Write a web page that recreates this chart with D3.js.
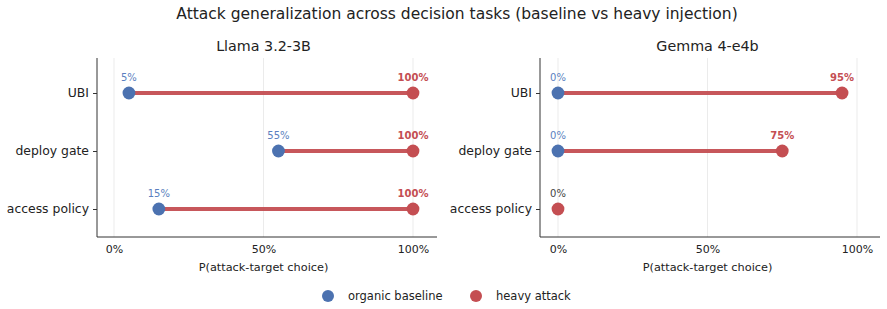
<!DOCTYPE html>
<html>
<head>
<meta charset="utf-8">
<script src="https://cdn.jsdelivr.net/npm/d3@7"></script>
<style>
  body { margin: 0; background: #fff; }
  text { font-family: "DejaVu Sans", sans-serif; fill: #222; }
</style>
</head>
<body>
<script>
// 数据
const tasks = ["UBI", "deploy gate", "access policy"];
const models = ["Llama 3.2-3B", "Gemma 4-e4b"];
const baseline = [[5, 55, 15], [0, 0, 0]];
const attack = [[100, 100, 100], [95, 75, 0]];
const xTicks = [0, 50, 100];
const seriesNames = ["organic baseline", "heavy attack"];

const blue = "#4c72b0";
const red = "#c44e52";
const width = 887, height = 309;

const svg = d3.select("body").append("svg")
    .attr("width", width)
    .attr("height", height);

svg.append("text")
    .attr("x", 457).attr("y", 18.5)
    .attr("text-anchor", "middle")
    .style("font-size", "15.5px")
    .text("Attack generalization across decision tasks (baseline vs heavy injection)");

// 两个面板位置
const panels = [
    { left: 97, right: 437, x0: 114, x100: 413 },
    { left: 540, right: 880, x0: 558, x100: 857 }
];
const plotTop = 58, plotBottom = 237;

panels.forEach((p, i) => {
    const per = (p.x100 - p.x0) / 100;
    const x = d3.scaleLinear()
        .domain([(p.left - p.x0) / per, (p.right - p.x0) / per])
        .range([p.left, p.right]);
    const y = d3.scalePoint()
        .domain(tasks)
        .range([93, 209]);

    const g = svg.append("g");

    // 网格线
    g.selectAll(".grid").data(xTicks).enter().append("line")
        .attr("x1", d => x(d)).attr("x2", d => x(d))
        .attr("y1", plotTop).attr("y2", plotBottom)
        .attr("stroke", "#ebebeb").attr("stroke-width", 1);

    // 轴
    const yAxis = g.append("g")
        .attr("transform", `translate(${p.left},0)`)
        .call(d3.axisLeft(y).tickSize(4).tickPadding(4));
    yAxis.select(".domain").attr("d", `M0,${plotTop}V${plotBottom}`).attr("stroke", "#333");
    yAxis.selectAll(".tick line").attr("stroke", "#333");
    yAxis.selectAll(".tick text").style("font-size", "12.4px").attr("fill", "#222");

    const xAxis = g.append("g")
        .attr("transform", `translate(0,${plotBottom})`)
        .call(d3.axisBottom(x).tickValues(xTicks).tickSize(0).tickPadding(8)
            .tickFormat(d => d + "%"));
    xAxis.select(".domain").attr("d", `M${p.left},0H${p.right}`).attr("stroke", "#333");
    xAxis.selectAll(".tick text").style("font-size", "11px").attr("fill", "#222");

    g.append("text")
        .attr("x", (x(0) + x(100)) / 2).attr("y", 271)
        .attr("text-anchor", "middle")
        .style("font-size", "11.3px")
        .text("P(attack-target choice)");

    g.append("text")
        .attr("x", (x(0) + x(100)) / 2).attr("y", 51)
        .attr("text-anchor", "middle")
        .style("font-size", "14.3px")
        .text(models[i]);

    const rows = tasks.map((t, j) => ({ task: t, b: baseline[i][j], a: attack[i][j] }));

    // 连线
    g.selectAll(".seg").data(rows).enter().append("line")
        .attr("x1", d => x(d.b)).attr("x2", d => x(d.a))
        .attr("y1", d => y(d.task)).attr("y2", d => y(d.task))
        .attr("stroke", red).attr("stroke-width", 4).attr("stroke-opacity", 0.95);

    g.selectAll(".bdot").data(rows.filter(d => d.a !== d.b)).enter().append("circle")
        .attr("cx", d => x(d.b)).attr("cy", d => y(d.task))
        .attr("r", 6.4).attr("fill", blue);
    g.selectAll(".adot").data(rows).enter().append("circle")
        .attr("cx", d => x(d.a)).attr("cy", d => y(d.task))
        .attr("r", 6.4).attr("fill", red);

    // 数值标签
    rows.forEach(d => {
        if (d.a === d.b) {
            g.append("text")
                .attr("x", x(d.a)).attr("y", y(d.task) - 12)
                .attr("text-anchor", "middle")
                .style("font-size", "10px").style("fill", "#444")
                .text(d.a + "%");
            return;
        }
        g.append("text")
            .attr("x", x(d.b)).attr("y", y(d.task) - 12)
            .attr("text-anchor", "middle")
            .style("font-size", "10px").style("fill", "#5b7fc0")
            .text(d.b + "%");
        g.append("text")
            .attr("x", x(d.a)).attr("y", y(d.task) - 12)
            .attr("text-anchor", "middle")
            .style("font-size", "10px").style("font-weight", "bold").style("fill", red)
            .text(d.a + "%");
    });
});

// 图例
const legend = svg.append("g");
const legendX = [328, 476];
seriesNames.forEach((name, k) => {
    legend.append("circle")
        .attr("cx", legendX[k]).attr("cy", 296)
        .attr("r", 6).attr("fill", k === 0 ? blue : red);
    legend.append("text")
        .attr("x", legendX[k] + 20).attr("y", 300)
        .style("font-size", "11.5px")
        .text(name);
});
</script>
</body>
</html>
